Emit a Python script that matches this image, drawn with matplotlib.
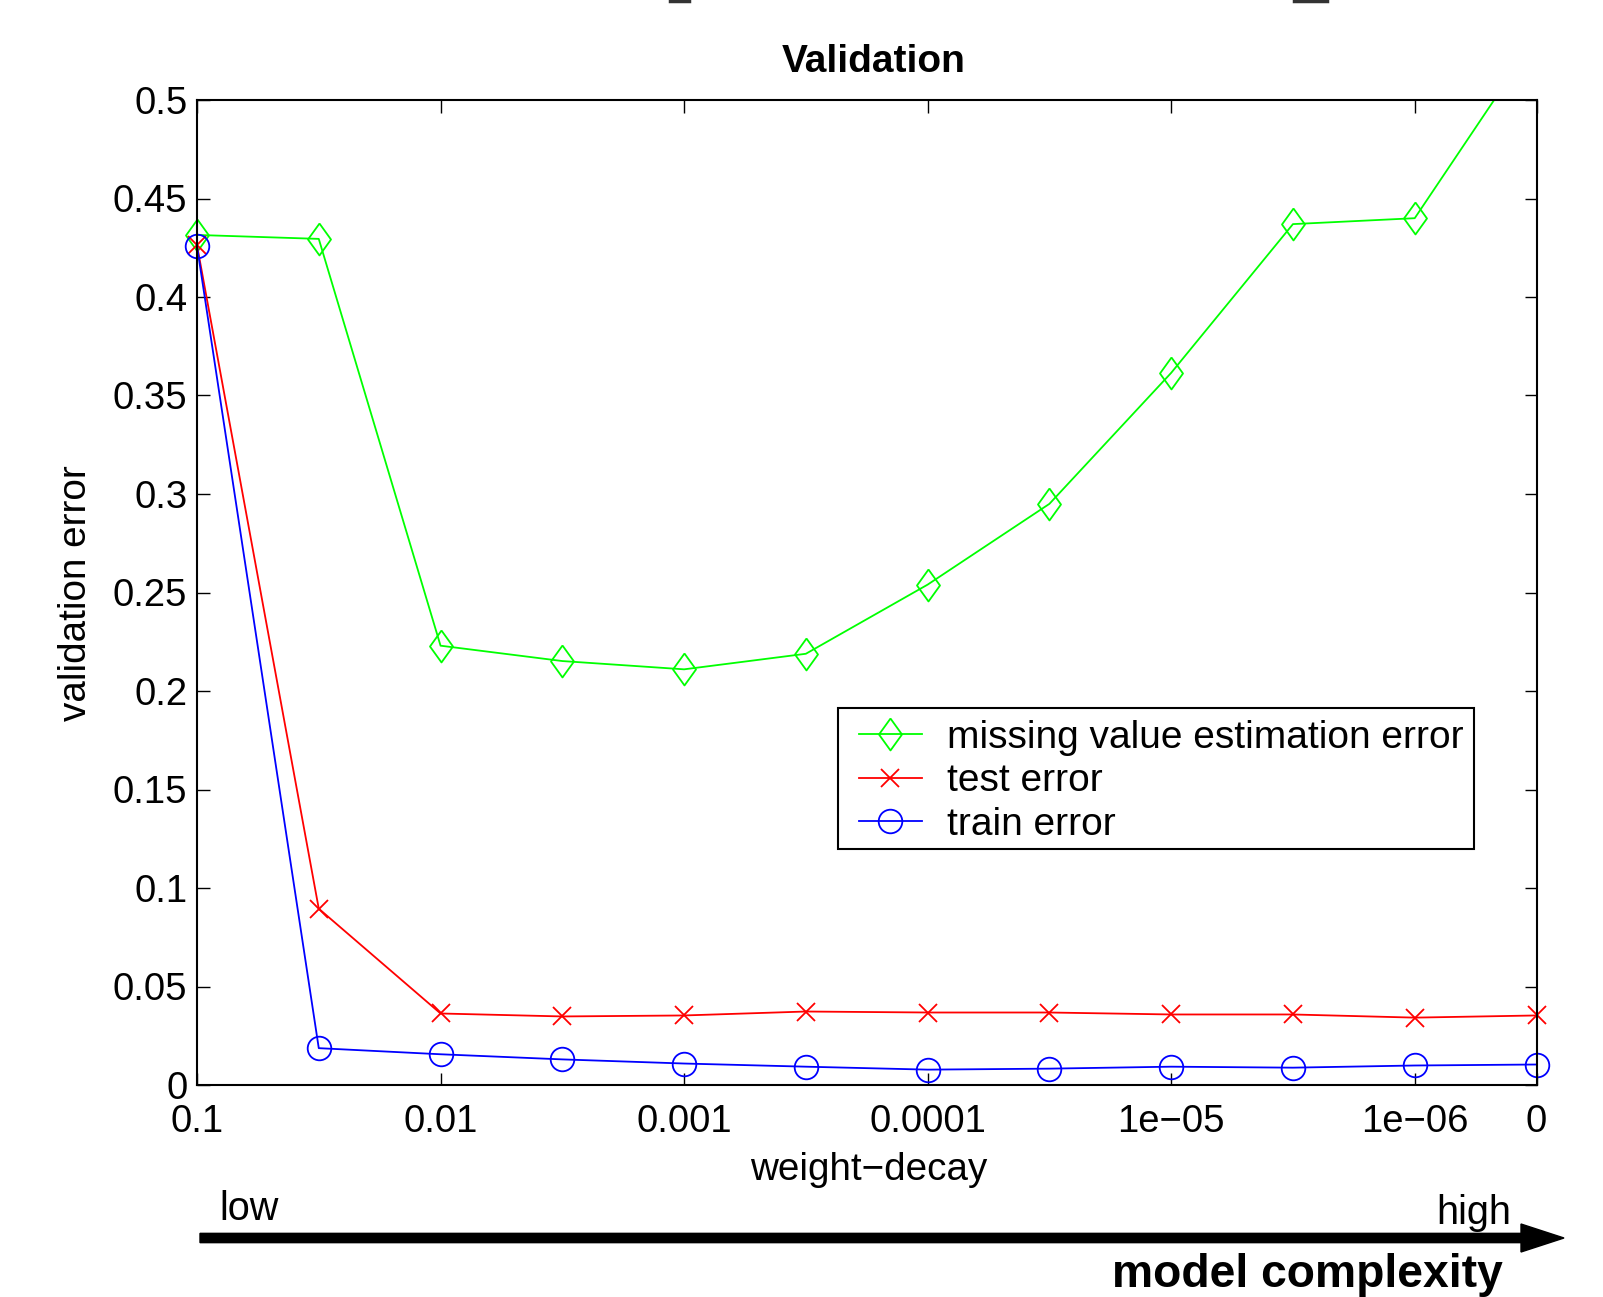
import matplotlib
matplotlib.use('Agg')
import matplotlib.pyplot as plt
from matplotlib.patches import FancyArrow, Rectangle
from matplotlib.lines import Line2D
from matplotlib.transforms import Bbox, TransformedBbox

plt.rcParams['font.family'] = ['Liberation Sans', 'DejaVu Sans']

# weight-decay settings, from strong to none
decay_labels = ['0.1', '', '0.01', '', '0.001', '', '0.0001', '', '1e\u221205', '', '1e\u221206', '0']
tick_idx = [0, 2, 4, 6, 8, 10, 11]

missing_err = [0.4315, 0.4295, 0.2230, 0.2152, 0.2110, 0.2189, 0.2540, 0.2950, 0.3615, 0.4370, 0.4400, 0.5320]
test_err = [0.4263, 0.0895, 0.0363, 0.0348, 0.0353, 0.0373, 0.0368, 0.0368, 0.0358, 0.0358, 0.0342, 0.0353]
train_err = [0.4258, 0.0187, 0.0156, 0.0130, 0.0109, 0.0093, 0.0078, 0.0083, 0.0093, 0.0088, 0.0099, 0.0104]

W, H = 1603, 1297
fig = plt.figure(figsize=(W / 100, H / 100), dpi=100)
fig.patch.set_facecolor('white')
ax = fig.add_axes([197 / W, 1 - 1085 / H, (1536.5 - 197) / W, (1085 - 100) / H])

x = list(range(len(decay_labels)))
diamond = [(0, 1), (0.72, 0), (0, -1), (-0.72, 0), (0, 1)]

lines = []
lines += ax.plot(x, missing_err, color='#00ff00', lw=1.3, marker=diamond, ms=23, mfc='none',
                 mew=1.3, label='missing value estimation error ')
lines += ax.plot(x, test_err, color='#ff0000', lw=1.3, marker='x', ms=12.5, mew=1.3, label='test error')
lines += ax.plot(x, train_err, color='#0000ff', lw=1.3, marker='o', ms=17, mfc='none',
                 mew=1.3, label='train error')

# let end markers stick out sideways, but keep the top clipped like the original
clip = TransformedBbox(Bbox([[-0.05, -0.05], [1.05, 1.0]]), ax.transAxes)
for ln in lines:
    ln.set_clip_box(clip)

ax.set_xlim(0, 11)
ax.set_ylim(0, 0.5)
ax.set_xticks(tick_idx)
ax.set_xticklabels([decay_labels[i] for i in tick_idx])
ax.set_yticks([i * 0.05 for i in range(11)])
ax.set_yticklabels(['0', '0.05', '0.1', '0.15', '0.2', '0.25', '0.3', '0.35', '0.4', '0.45', '0.5'])
ax.tick_params(direction='in', length=9, width=1, top=True, right=True, labelsize=27.5)
ax.tick_params(axis='y', pad=7)
ax.tick_params(axis='x', pad=13.5)
for s in ax.spines.values():
    s.set_linewidth(1.5)

leg = ax.legend(loc='upper left', bbox_to_anchor=(0.4882, 0.3787), fontsize=28, frameon=False,
                handlelength=1.62, handletextpad=0.64, labelspacing=0.19, borderpad=0.2,
                borderaxespad=0)
ax.add_patch(Rectangle((0.4788, 0.2401), 0.9535 - 0.4788, 0.3823 - 0.2401, transform=ax.transAxes,
                       fill=False, edgecolor='black', lw=1.5, zorder=4))

# titles and labels
fig.text(874 / W, 1 - 72 / H, 'Validation', fontsize=28, fontweight='bold', ha='center', va='baseline')
fig.text(869 / W, 1 - 1170 / H, 'weight\u2212decay', fontsize=27.8, ha='center', va='center')
fig.text(76 / W, 1 - 593 / H, 'validation error', fontsize=27.8, rotation=90, ha='center', va='center')

# model complexity arrow
fig.text(219 / W, 1 - 1209 / H, 'low', fontsize=28.5, ha='left', va='center')
fig.text(1511 / W, 1 - 1213 / H, 'high', fontsize=28.5, ha='right', va='center')
fig.add_artist(FancyArrow(2.00, (H - 1238) / 100, 13.21, 0, width=0.093, head_width=0.28,
                          head_length=0.43, length_includes_head=False, color='black',
                          transform=fig.dpi_scale_trans))
fig.text(1503 / W, 1 - 1275 / H, 'model complexity', fontsize=33.3, fontweight='bold',
         ha='right', va='center')

# clipped fragments at the very top edge
for x0, x1 in [(670, 689), (1294, 1327)]:
    fig.add_artist(Line2D([x0 / W, x1 / W], [1 - 1 / H, 1 - 1 / H], color='#333333', lw=2.5,
                          transform=fig.transFigure))

fig.savefig('out.png', dpi=100, facecolor='white')
